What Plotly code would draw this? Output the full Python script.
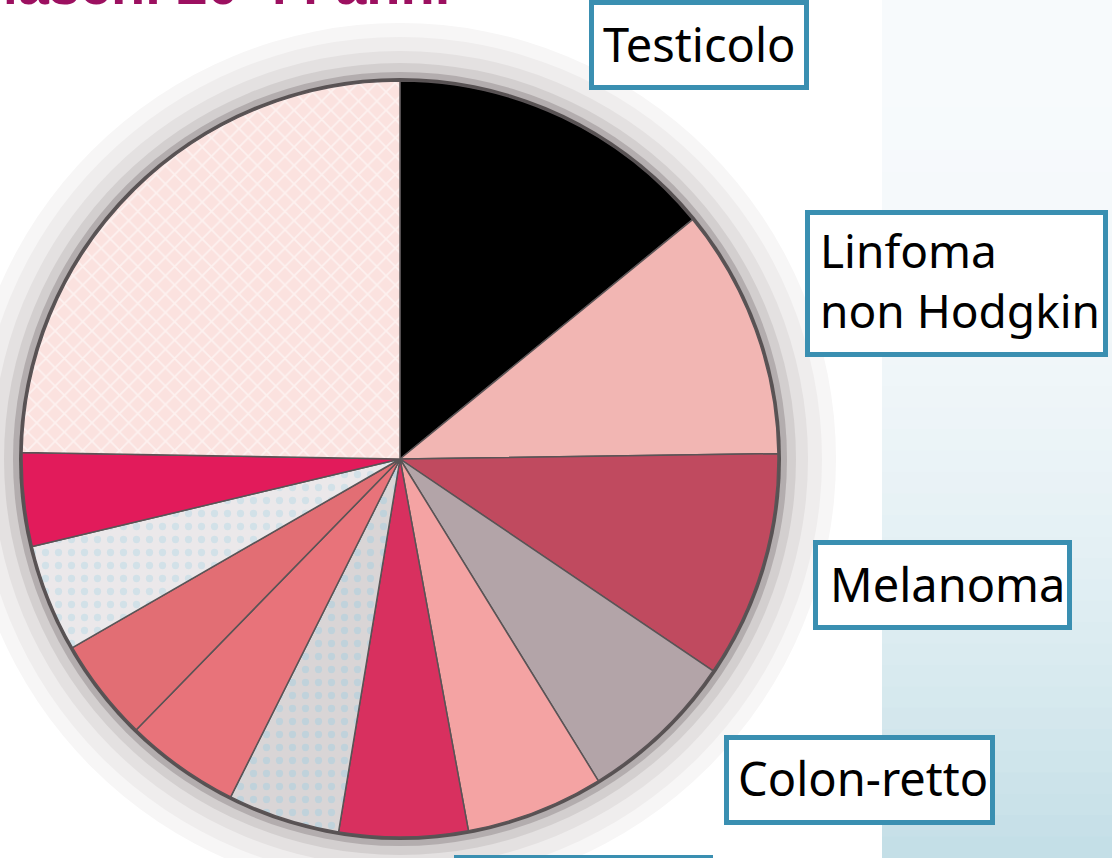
import plotly.graph_objects as go

W, H = 1112, 858

# slices clockwise from 12 o'clock (percent)
labels = ['Testicolo', 'Linfoma<br>non Hodgkin', 'Melanoma', 'Colon-retto', 'Tiroide',
          'Altro 1', 'Altro 2', 'Altro 3', 'Altro 4', 'Altro 5', 'Altro 6', 'Altri tumori']
values = [14.1, 10.7, 9.7, 6.75, 5.9, 5.5, 4.8, 4.9, 4.4, 4.6, 4.0, 24.75]
colors = ['#000000', '#f2b6b3', '#c04a5f', '#b3a4a8', '#f4a3a3', '#d8305f',
          '#d9d5d6', '#e8737a', '#e26e74', '#ebe8ea', '#e21b5b', '#fbe2df']
title_text = 'Maschi 20-44 anni'


def px(x):
    return x / W


def py(y):
    return 1 - y / H


cx, cy, r = 400, 459, 378

pat_shape = ['', '', '', '', '', '', '.', '', '', '.', '', 'x']
pat_fg = ['white'] * 6 + ['#a8cfe0', 'white', 'white', '#b9d9e6', 'white', 'white']

fig = go.Figure()
fig.add_trace(go.Pie(
    labels=labels, values=values, sort=False, direction='clockwise', rotation=0,
    marker=dict(colors=colors, line=dict(color='#5a5456', width=1.5),
                pattern=dict(shape=pat_shape, fgcolor=pat_fg, fillmode='overlay',
                             size=13, solidity=0.25)),
    textinfo='none', hoverinfo='label+percent', showlegend=False,
    domain=dict(x=[px(cx - r), px(cx + r)], y=[py(cy + r), py(cy - r)]),
))

shapes = []
# right side pale blue gradient
n = 40
for i in range(n):
    t = i / (n - 1)
    k = t ** 2.2
    c0 = (247, 250, 252)
    c1 = (196, 223, 231)
    col = 'rgb(%d,%d,%d)' % tuple(round(a + (b - a) * k) for a, b in zip(c0, c1))
    shapes.append(dict(type='rect', xref='paper', yref='paper', layer='below',
                       x0=px(882), x1=1, y0=py(H * (i + 1) / n + 1), y1=py(H * i / n),
                       fillcolor=col, line=dict(width=0)))

# grey halo round the pie
for dr, col in [(58, '#f7f6f6'), (44, '#efeded'), (30, '#e4e1e1'), (18, '#d3cfcf'),
                (9, '#b3adae'), (3, '#585253')]:
    shapes.append(dict(type='circle', xref='paper', yref='paper', layer='below',
                       x0=px(cx - r - dr), x1=px(cx + r + dr),
                       y0=py(cy + r + dr), y1=py(cy - r - dr),
                       fillcolor=col, line=dict(width=0)))

# label boxes (outer edges in pixels)
for x0, y0, x1, y1 in [(589, 0, 809, 90), (805, 210, 1108, 357), (813, 540, 1072, 630),
                       (724, 735, 995, 825), (454, 855, 713, 945)]:
    shapes.append(dict(type='rect', xref='paper', yref='paper',
                       x0=px(x0 + 2.5), x1=px(x1 - 2.5), y0=py(y1 - 2.5), y1=py(y0 + 2.5),
                       fillcolor='white', line=dict(color='#3a8fb1', width=5)))

texts = [
    (labels[0], 601, 44, 47),
    (labels[1], 818, 280, 46),
    (labels[2], 828, 584, 47),
    (labels[3], 736, 778, 47),
    (labels[4], 468, 898, 47),
]
annotations = []
for txt, x, y, fs in texts:
    annotations.append(dict(
        text=txt, xref='paper', yref='paper', x=px(x), y=py(y),
        xanchor='left', yanchor='middle', align='left', showarrow=False,
        font=dict(family='Noto Sans', size=fs, color='black'),
    ))

annotations.append(dict(
    text='<b>' + title_text + '</b>', xref='paper', yref='paper', x=px(452), y=py(-15),
    xanchor='right', yanchor='middle', showarrow=False,
    font=dict(family='Liberation Sans', size=56, color='#9c1060'),
))

fig.update_layout(
    width=W, height=H, margin=dict(l=0, r=0, t=0, b=0),
    paper_bgcolor='white', plot_bgcolor='white',
    shapes=shapes, annotations=annotations,
)

fig.write_html('out.html', config={'displayModeBar': False},
               post_script="document.body.style.margin='0';document.body.style.overflow='hidden';")
